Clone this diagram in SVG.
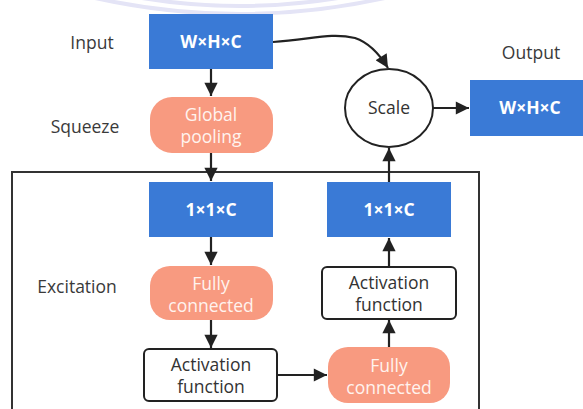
<svg xmlns="http://www.w3.org/2000/svg" width="583" height="409" viewBox="0 0 583 409">
<defs>
<style>
.lbl{font-family:"Open Sans","Noto Sans",sans-serif;font-size:17.5px;fill:#3a3a3a;text-anchor:middle}
.blue{fill:#3a7ad6}
.bt{font-family:"Open Sans","Noto Sans",sans-serif;font-size:17.5px;font-weight:bold;fill:#ffffff;text-anchor:middle}
.sal{fill:#f89a80}
.st{font-family:"Open Sans","Noto Sans",sans-serif;font-size:17.5px;fill:#fff3ee;text-anchor:middle}
.wb{fill:#ffffff;stroke:#222;stroke-width:2}
.wt{font-family:"Open Sans","Noto Sans",sans-serif;font-size:17.5px;fill:#333;text-anchor:middle}
.edge{fill:none;stroke:#222;stroke-width:2.2;marker-end:url(#ah)}
</style>
<marker id="ah" viewBox="0 0 10 10" refX="10" refY="5" markerWidth="6.5" markerHeight="6" orient="auto" markerUnits="strokeWidth">
<path d="M0,0 L10,5 L0,10 z" fill="#222"/>
</marker>
</defs>
<rect width="583" height="409" fill="#ffffff"/>
<g id="watermark" fill="none" stroke="#e4e4f6" stroke-width="4">
<path d="M95,-2 Q240,30 385,-2"/>
<path d="M110,-8 Q240,20 370,-8"/>
</g>
<g id="labels">
<text class="lbl" x="92" y="49">Input</text>
<text class="lbl" x="85" y="133">Squeeze</text>
<text class="lbl" x="77" y="293">Excitation</text>
<text class="lbl" x="531" y="59">Output</text>
</g>
<g id="excitation-frame">
<rect x="12" y="172" width="467" height="250" fill="none" stroke="#333" stroke-width="2"/>
</g>
<g id="input">
<rect class="blue" x="149" y="14" width="124" height="55"/>
<text class="bt" x="211" y="48">W×H×C</text>
</g>
<g id="global-pooling">
<rect class="sal" x="150" y="97" width="123" height="56" rx="22"/>
<text class="st" x="211" y="121">Global</text>
<text class="st" x="211" y="143">pooling</text>
</g>
<g id="c1">
<rect class="blue" x="149" y="182" width="124" height="55"/>
<text class="bt" x="211" y="216">1×1×C</text>
</g>
<g id="fc1">
<rect class="sal" x="150" y="266" width="123" height="54" rx="20"/>
<text class="st" x="211" y="290">Fully</text>
<text class="st" x="211" y="312">connected</text>
</g>
<g id="act1">
<rect class="wb" x="144" y="349" width="133" height="52" rx="5"/>
<text class="wt" x="211" y="371">Activation</text>
<text class="wt" x="211" y="393">function</text>
</g>
<g id="fc2">
<rect class="sal" x="328" y="347" width="122" height="56" rx="20"/>
<text class="st" x="389" y="372">Fully</text>
<text class="st" x="389" y="394">connected</text>
</g>
<g id="act2">
<rect class="wb" x="322" y="267" width="134" height="52" rx="5"/>
<text class="wt" x="389" y="289">Activation</text>
<text class="wt" x="389" y="311">function</text>
</g>
<g id="c2">
<rect class="blue" x="327" y="182" width="124" height="55"/>
<text class="bt" x="389" y="216">1×1×C</text>
</g>
<g id="scale">
<ellipse cx="389" cy="108" rx="44" ry="39" fill="#ffffff" stroke="#222" stroke-width="2"/>
<text class="wt" x="389" y="114">Scale</text>
</g>
<g id="output">
<rect class="blue" x="470" y="80" width="120" height="56"/>
<text class="bt" x="530" y="114">W×H×C</text>
</g>
<g id="connectors">
<path class="edge" d="M211,69 L211,96"/>
<path class="edge" d="M211,153 L211,181"/>
<path class="edge" d="M211,237 L211,265"/>
<path class="edge" d="M211,320 L211,348"/>
<path class="edge" d="M277,375 L327,375"/>
<path class="edge" d="M389,347 L389,320"/>
<path class="edge" d="M389,267 L389,238"/>
<path class="edge" d="M389,182 L389,148"/>
<path class="edge" d="M433,108 L469,108"/>
<path class="edge" d="M273,42 C310,40 330,32 355,38 C370,43 380,55 388,68"/>
</g>
</svg>
